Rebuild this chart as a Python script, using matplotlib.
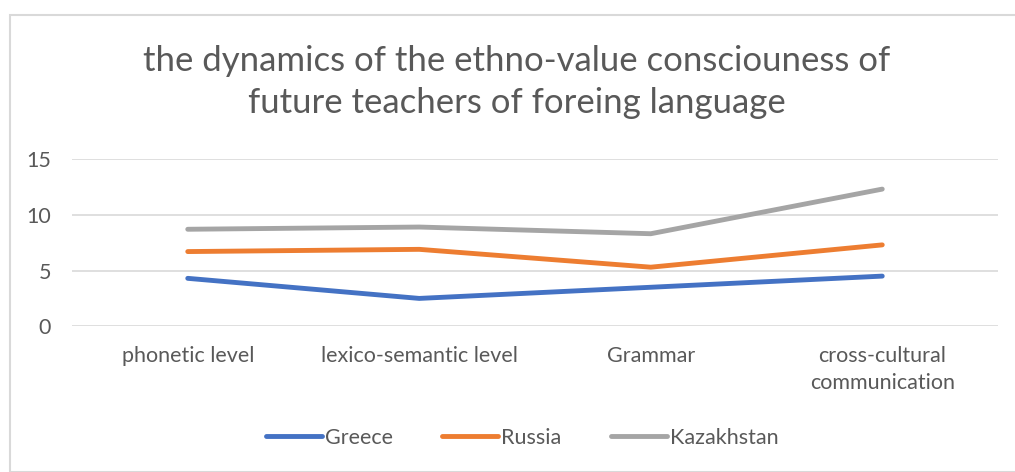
import matplotlib
matplotlib.use('Agg')
import matplotlib.pyplot as plt
from matplotlib.patches import Rectangle
import numpy as np

plt.rcParams['font.family'] = ['Lato', 'DejaVu Sans']

categories = ['phonetic level', 'lexico-semantic level', 'Grammar', 'cross-cultural\ncommunication']
series_names = ['Greece', 'Russia', 'Kazakhstan']
greece = [4.3, 2.5, 3.5, 4.5]
russia = [2.4, 4.4, 1.8, 2.8]
kazakhstan = [2.0, 2.0, 3.0, 5.0]
colors = ['#4472C4', '#ED7D31', '#A5A5A5']
y_ticks = [0, 5, 10, 15]

TEXT = '#595959'
GRID = '#d9d9d9'

fig = plt.figure(figsize=(10.15, 4.72), dpi=100)
W, H = 1015, 472

# chart frame
fig.patches.append(Rectangle((10 / W, 0), 1.2, 1 - 15 / H, transform=fig.transFigure,
                             fill=False, edgecolor=GRID, linewidth=1.5))

ax = fig.add_axes([72 / W, 1 - 326.3 / H, (998 - 72) / W, (326.3 - 159) / H])

# stacked line chart: each series sits on top of the previous ones
x = np.arange(len(categories))
stack = np.cumsum(np.array([greece, russia, kazakhstan]), axis=0)
for name, vals, c in zip(series_names, stack, colors):
    ax.plot(x, vals, color=c, linewidth=3.5, solid_capstyle='round', label=name)

ax.set_xlim(-0.5, len(categories) - 0.5)
ax.set_ylim(0, 15)
ax.set_yticks(y_ticks)
ax.set_xticks(x)
ax.set_xticklabels(categories, linespacing=1.45)
ax.grid(axis='y', color=GRID, linewidth=1.2)
ax.set_axisbelow(True)
for s in ax.spines.values():
    s.set_visible(False)
ax.tick_params(axis='both', length=0, labelsize=15.5, colors=TEXT)
ax.tick_params(axis='x', pad=14)
ax.tick_params(axis='y', pad=15)

fig.text(517 / W, 1 - 82 / H,
         'the dynamics of the ethno-value consciouness of\nfuture teachers of foreing language',
         ha='center', va='center', fontsize=25, color=TEXT, linespacing=1.4)

leg = fig.legend(loc='center', bbox_to_anchor=(522 / W, 1 - 438 / H), ncol=3,
                 frameon=False, fontsize=15.5, handlelength=2.6, handletextpad=0.14,
                 columnspacing=2.3, labelcolor=TEXT)

fig.savefig('out.png', dpi=100)
